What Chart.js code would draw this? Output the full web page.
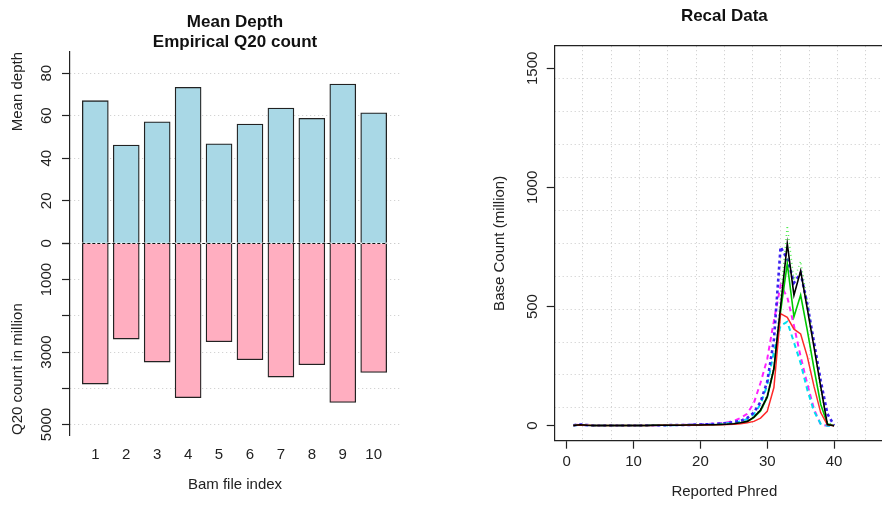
<!DOCTYPE html>
<html>
<head>
<meta charset="utf-8">
<script src="https://cdn.jsdelivr.net/npm/chart.js@4.4.1/dist/chart.umd.min.js"></script>
<style>
  html, body { margin: 0; padding: 0; background: #fff; overflow: hidden; }
  body { width: 882px; height: 506px; position: relative; }
  .panel { position: absolute; top: 0; height: 506px; }
  #depthWrap, #q20Wrap { left: 0; width: 420px; }
  #recalWrap { left: 441px; width: 480px; }
</style>
</head>
<body>
<div class="panel" id="depthWrap"><canvas id="depthChart" width="420" height="506"></canvas></div>
<div class="panel" id="q20Wrap"><canvas id="q20Chart" width="420" height="506"></canvas></div>
<div class="panel" id="recalWrap"><canvas id="recalChart" width="480" height="506"></canvas></div>
<script>
// left panel: mean depth (up) and Q20 count (down) per bam file
const bamIndex = [1, 2, 3, 4, 5, 6, 7, 8, 9, 10];
const meanDepth = [67.1, 46.2, 57.2, 73.4, 46.8, 56.1, 63.6, 58.8, 74.9, 61.4];
const q20Million = [3884, 2643, 3277, 4262, 2717, 3214, 3691, 3352, 4392, 3564];
const depthTicks = [0, 20, 40, 60, 80];
const q20Ticks = [0, 1000, 2000, 3000, 4000, 5000];
const q20Labelled = [1000, 3000, 5000];

// right panel: recal data, base count (million) by reported phred
const phred = [1, 2, 3, 4, 5, 6, 7, 8, 9, 10, 11, 12, 13, 14, 15, 16, 17, 18, 19, 20,
  21, 22, 23, 24, 25, 26, 27, 28, 29, 30, 31, 32, 33, 34, 35, 36, 37, 38, 39, 40];
const phredTicks = [0, 10, 20, 30, 40];
const countTicks = [0, 500, 1000, 1500];

const recalBlack = [1, 4, 2, 1, 1, 1, 1, 1, 1, 1, 1, 1, 2, 2, 2, 2, 2, 3, 3, 3,
  4, 4, 5, 6, 8, 12, 18, 36, 66, 122, 240, 500, 764, 548, 650, 490, 330, 165, 5, 0];
const recalRed = [1, 3, 2, 1, 1, 1, 1, 1, 1, 1, 1, 1, 1, 2, 2, 2, 2, 2, 2, 3,
  3, 4, 4, 5, 6, 8, 12, 18, 32, 60, 160, 470, 455, 405, 385, 290, 165, 55, 4, 0];
const recalGreen = [1, 4, 2, 1, 1, 1, 1, 1, 1, 1, 1, 1, 2, 2, 2, 2, 2, 3, 3, 3,
  4, 4, 5, 6, 8, 11, 17, 34, 62, 118, 235, 480, 680, 457, 548, 400, 240, 90, 8, 0];
const recalBlue = [2, 5, 3, 1, 1, 1, 1, 1, 1, 1, 1, 2, 2, 2, 2, 3, 3, 3, 4, 5,
  6, 7, 9, 11, 15, 20, 32, 55, 100, 185, 360, 750, 700, 600, 640, 510, 350, 190, 50, 2];
const recalCyan = [1, 4, 2, 1, 1, 1, 1, 1, 1, 1, 1, 2, 2, 2, 2, 2, 3, 3, 4, 4,
  5, 6, 8, 10, 13, 18, 28, 48, 90, 170, 310, 420, 436, 350, 262, 150, 60, 8, 0, 0];
const recalMagenta = [2, 4, 2, 1, 1, 1, 1, 1, 1, 1, 1, 2, 2, 2, 3, 3, 3, 4, 5, 6,
  7, 9, 11, 14, 20, 32, 50, 95, 180, 280, 440, 590, 540, 420, 290, 175, 70, 5, 0, 0];
const recalLightGreen = [1, 4, 2, 1, 1, 1, 1, 1, 1, 1, 1, 1, 2, 2, 2, 2, 3, 3, 3, 4,
  4, 5, 6, 7, 9, 13, 20, 40, 70, 130, 250, 540, 840, 610, 690, 520, 340, 150, 15, 0];

Chart.defaults.font.family = '"Liberation Sans", Arial, Helvetica, sans-serif';
Chart.defaults.font.size = 15;
Chart.defaults.color = '#222';

const INK = '#222';
const GRID = '#c9c9c9';

// R style rotated tick labels on a vertical axis
function sideLabels(scaleId, values, gap, absolute) {
  return {
    id: 'sideLabels',
    afterDraw(chart) {
      const scale = chart.scales[scaleId];
      const ctx = chart.ctx;
      ctx.save();
      ctx.font = '15px "Liberation Sans", Arial, sans-serif';
      ctx.fillStyle = INK;
      ctx.textAlign = 'center';
      ctx.textBaseline = 'middle';
      values.forEach(v => {
        const y = scale.getPixelForValue(absolute ? -v : v);
        ctx.save();
        ctx.translate(scale.right - gap, y);
        ctx.rotate(-Math.PI / 2);
        ctx.fillText(String(v), 0, 0);
        ctx.restore();
      });
      ctx.restore();
    }
  };
}

// dashed zero line across the bars
const zeroLine = {
  id: 'zeroLine',
  afterDatasetsDraw(chart) {
    const meta = chart.getDatasetMeta(0);
    const first = meta.data[0];
    const last = meta.data[meta.data.length - 1];
    const y = Math.round(chart.scales.y.getPixelForValue(0)) + 0.5;
    const ctx = chart.ctx;
    ctx.save();
    ctx.strokeStyle = '#111';
    ctx.lineWidth = 1;
    ctx.setLineDash([3, 2]);
    ctx.beginPath();
    ctx.moveTo(first.x - first.width / 2, y);
    ctx.lineTo(last.x + last.width / 2, y);
    ctx.stroke();
    ctx.restore();
  }
};

const setTicks = list => scale => { scale.ticks = list.map(v => ({ value: v })); };

const leftX = { type: 'linear', min: 0.182, max: 10.85, offset: false };

const yGrid = {
  color: GRID, lineWidth: 1, drawTicks: true, tickLength: 8,
  tickColor: INK, tickWidth: 1.2, tickBorderDash: []
};

// top: mean depth
new Chart(document.getElementById('depthChart'), {
  type: 'bar',
  data: {
    datasets: [{
      label: 'Mean depth',
      data: bamIndex.map((b, i) => ({ x: b, y: meanDepth[i] })),
      backgroundColor: '#a9d8e6',
      borderColor: INK,
      borderWidth: 1.3,
      barThickness: 26
    }]
  },
  options: {
    responsive: false,
    animation: false,
    events: [],
    layout: { padding: { left: 0, right: 20, top: 0, bottom: 262.7 } },
    plugins: {
      legend: { display: false },
      tooltip: { enabled: false },
      title: {
        display: true,
        fullSize: false,
        text: ['Mean Depth', 'Empirical Q20 count'],
        color: '#111',
        font: { size: 17, weight: 'bold', lineHeight: 1.15 },
        padding: { top: 12.9, bottom: 0 }
      }
    },
    scales: {
      x: Object.assign({ display: false }, leftX),
      y: {
        type: 'linear', min: 0, max: 90,
        afterBuildTicks: setTicks(depthTicks),
        afterFit: s => { s.width = 70; },
        grid: yGrid,
        border: { display: true, color: INK, width: 1.2, dash: [1, 3] },
        ticks: { display: false },
        title: { display: true, text: 'Mean depth', align: 'end', padding: { top: 8.5, bottom: 0 } }
      }
    }
  },
  plugins: [sideLabels('y', depthTicks, 23, false)]
});

// bottom: Q20 count, drawn downward
new Chart(document.getElementById('q20Chart'), {
  type: 'bar',
  data: {
    datasets: [{
      label: 'Q20 count in million',
      data: bamIndex.map((b, i) => ({ x: b, y: -q20Million[i] })),
      backgroundColor: '#ffaec0',
      borderColor: INK,
      borderWidth: 1.3,
      barThickness: 26
    }]
  },
  options: {
    responsive: false,
    animation: false,
    events: [],
    layout: { padding: { left: 0, right: 20, top: 243.3, bottom: 0 } },
    plugins: { legend: { display: false }, tooltip: { enabled: false } },
    scales: {
      x: Object.assign({
        afterBuildTicks: setTicks(bamIndex),
        afterFit: s => { s.height = 71; },
        grid: { display: false, drawTicks: false },
        border: { display: false },
        ticks: { padding: 11, maxRotation: 0, autoSkip: false },
        title: { display: true, text: 'Bam file index', padding: { top: 0, bottom: 12 } }
      }, leftX),
      y: {
        type: 'linear', min: -5290, max: 0,
        afterBuildTicks: setTicks(q20Ticks.map(v => -v)),
        afterFit: s => { s.width = 70; },
        grid: yGrid,
        border: { display: true, color: INK, width: 1.2, dash: [1, 3] },
        ticks: { display: false },
        title: { display: true, text: 'Q20 count in million', align: 'start', padding: { top: 8.5, bottom: 0 } }
      }
    }
  },
  plugins: [sideLabels('y', q20Labelled, 23, true), zeroLine]
});

// right: recal data
const recalSeries = [
  { name: 'bam1', values: recalBlack, color: '#000000', width: 1.6, dash: [] },
  { name: 'bam2', values: recalRed, color: '#ff2a2a', width: 1.5, dash: [] },
  { name: 'bam3', values: recalGreen, color: '#00c800', width: 1.6, dash: [] },
  { name: 'bam4', values: recalBlue, color: '#3c22f0', width: 2.6, dash: [3, 3] },
  { name: 'bam5', values: recalCyan, color: '#00e0ee', width: 2, dash: [5, 4] },
  { name: 'bam6', values: recalMagenta, color: '#ff22ff', width: 2, dash: [5, 4] },
  { name: 'bam7', values: recalLightGreen, color: '#55ee55', width: 1.5, dash: [1, 3] }
];

const xMin = -1.8, xMax = 48.97, yMin = -63, yMax = 1593.6;
const twelfths = (lo, hi) => scale => {
  const t = [];
  for (let k = 1; k < 12; k++) t.push({ value: lo + k * (hi - lo) / 12 });
  scale.ticks = t;
};

new Chart(document.getElementById('recalChart'), {
  type: 'line',
  data: {
    datasets: recalSeries.map(s => ({
      label: s.name,
      data: phred.map((p, i) => ({ x: p, y: s.values[i] })),
      borderColor: s.color,
      borderWidth: s.width,
      borderDash: s.dash,
      pointRadius: 0,
      fill: false,
      tension: 0,
      xAxisID: 'x',
      yAxisID: 'y'
    }))
  },
  options: {
    responsive: false,
    animation: false,
    events: [],
    layout: { padding: { left: 0, right: 27, top: 0, bottom: 0 } },
    plugins: {
      legend: { display: false },
      tooltip: { enabled: false },
      title: {
        display: true,
        fullSize: false,
        text: 'Recal Data',
        color: '#111',
        font: { size: 17, weight: 'bold', lineHeight: 1.2 },
        padding: { top: 6.5, bottom: 19.1 }
      }
    },
    scales: {
      x: {
        type: 'linear', min: xMin, max: xMax, position: 'bottom',
        afterBuildTicks: setTicks(phredTicks),
        afterFit: s => { s.height = 65.3; },
        grid: { drawOnChartArea: false, drawTicks: true, tickLength: 8, tickColor: INK, tickWidth: 1.2 },
        border: { color: INK, width: 1.2 },
        ticks: { padding: 4, maxRotation: 0, autoSkip: false },
        title: { display: true, text: 'Reported Phred', padding: { top: 0, bottom: 5.3 } }
      },
      y: {
        type: 'linear', min: yMin, max: yMax, position: 'left',
        afterBuildTicks: setTicks(countTicks),
        afterFit: s => { s.width = 113.7; },
        grid: { drawOnChartArea: false, drawTicks: true, tickLength: 8, tickColor: INK, tickWidth: 1.2 },
        border: { color: INK, width: 1.2 },
        ticks: { display: false },
        title: { display: true, text: 'Base Count (million)', padding: { top: 50, bottom: 0 } }
      },
      xg: {
        type: 'linear', min: xMin, max: xMax, position: 'top',
        afterBuildTicks: twelfths(xMin, xMax),
        afterFit: s => { s.height = 0; },
        grid: { color: GRID, lineWidth: 1, drawTicks: false },
        border: { display: true, color: INK, width: 1.2, dash: [1, 3] },
        ticks: { display: false }
      },
      yg: {
        type: 'linear', min: yMin, max: yMax, position: 'right',
        afterBuildTicks: twelfths(yMin, yMax),
        afterFit: s => { s.width = 0; },
        grid: { color: GRID, lineWidth: 1, drawTicks: false },
        border: { display: false, dash: [1, 3] },
        ticks: { display: false }
      }
    }
  },
  plugins: [sideLabels('y', countTicks, 22, false)]
});
</script>
</body>
</html>
